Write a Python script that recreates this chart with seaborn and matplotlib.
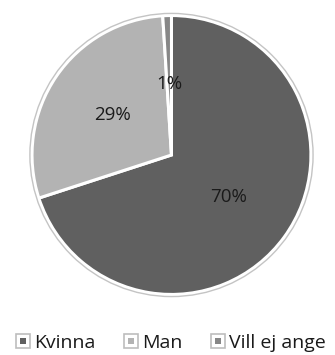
import matplotlib
matplotlib.use("Agg")
import numpy as np
import matplotlib.pyplot as plt
from matplotlib.lines import Line2D
from matplotlib.patches import Circle
import seaborn as sns

categories = ["Kvinna", "Man", "Vill ej ange"]
values = [70, 29, 1]
labels = ["70%", "29%", "1%"]
colors = ["#606060", "#b3b3b3", "#878787"]

sns.set_theme(style="white")
plt.rcParams['font.family'] = ['Open Sans', 'DejaVu Sans']

fig = plt.figure(figsize=(3.35, 3.55), dpi=100)
ax = fig.add_axes([0.085, 0.1606, 286/335, 286/355])
wedges, _ = ax.pie(values, colors=colors, startangle=90, counterclock=False,
                   radius=0.985, wedgeprops=dict(edgecolor="white", linewidth=2.2))
for w, lab in zip(wedges, labels):
    ang = np.deg2rad((w.theta1 + w.theta2) / 2)
    ax.text(0.5 * np.cos(ang), 0.5 * np.sin(ang), lab, ha="center", va="center",
            fontsize=13.5, color="#1a1a1a")
ax.add_patch(Circle((0, 0), 1.0, facecolor="none", edgecolor="#c4c4c4", lw=1.0))
ax.set_xlim(-1.01, 1.01)
ax.set_ylim(-1.01, 1.01)
ax.set_aspect("equal")
ax.axis("off")

handles = []
for c in colors:
    outer = Line2D([], [], marker="s", linestyle="none", markersize=10,
                   markerfacecolor="white", markeredgecolor="#bdbdbd", markeredgewidth=1.2)
    inner = Line2D([], [], marker="s", linestyle="none", markersize=4.5,
                   markerfacecolor=c, markeredgecolor=c, markeredgewidth=0)
    handles.append((outer, inner))
fig.legend(handles, categories, loc="center", bbox_to_anchor=(0.51, 1 - 343/355),
           ncol=3, frameon=False, fontsize=14, handlelength=0.7, handletextpad=0.25,
           columnspacing=1.45, labelcolor="#1a1a1a")

fig.savefig("out.png", dpi=100)
